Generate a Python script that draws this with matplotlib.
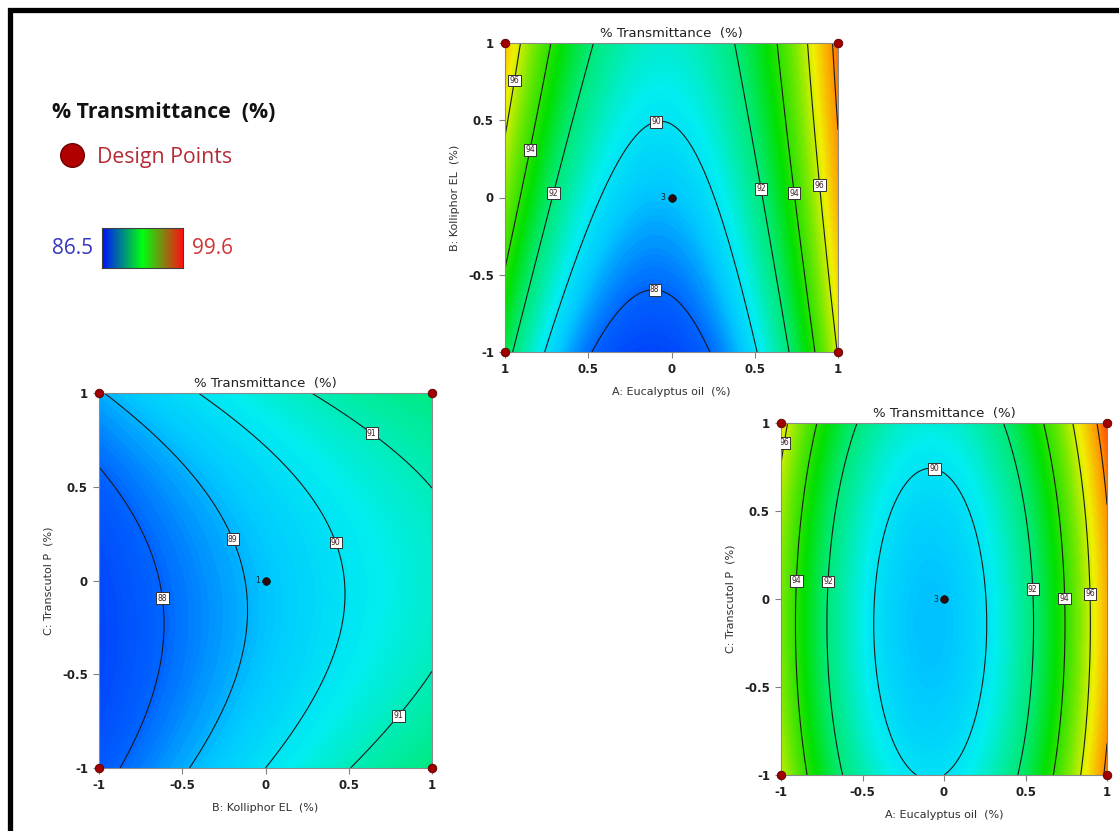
import numpy as np
import matplotlib
matplotlib.use("Agg")
import matplotlib.pyplot as plt
from matplotlib.colors import LinearSegmentedColormap
from matplotlib.patches import Rectangle
from matplotlib.lines import Line2D

# ---------------- data ----------------
# coded quadratic response-surface model for % Transmittance (read from contour positions)
term_names = ["1", "A", "B", "C", "A2", "B2", "C2", "AB", "AC", "BC"]
coef_values = [89.22, 1.20, 1.76, 0.31, 7.10, -0.24, 1.09, -0.56, 0.00, -0.32]

resp_min, resp_max = 86.5, 99.6

corner_x = [-1, 1, -1, 1]
corner_y = [-1, -1, 1, 1]
center_x, center_y = 0, 0

tick_vals = [-1, -0.5, 0, 0.5, 1]
tick_labels_std = ["-1", "-0.5", "0", "0.5", "1"]
tick_labels_top_x = ["1", "0.5", "0", "0.5", "1"]

title_text = "% Transmittance  (%)"
legend_title = "% Transmittance  (%)"
legend_points = "Design Points"

# panel definitions
top_levels = [88, 90, 92, 94, 96, 98]
top_label_pos = [(-0.96, 0.76), (-0.86, 0.31), (-0.72, 0.03), (-0.10, 0.53), (-0.10, -0.57),
                 (0.56, 0.06), (0.75, 0.03), (0.90, 0.08)]
bl_levels = [88, 89, 90, 91]
bl_label_pos = [(-0.614, -0.093), (-0.174, 0.23), (0.446, 0.21), (0.676, 0.83), (0.756, -0.69)]
br_levels = [90, 92, 94, 96, 98]
br_label_pos = [(-0.955, 0.883), (-0.05, 0.78), (-0.904, 0.103), (-0.71, 0.10),
                (0.556, 0.056), (0.754, 0.003), (0.91, 0.03)]

panels = [
    dict(xf="A", yf="B", xlabel="A: Eucalyptus oil  (%)", ylabel="B: Kolliphor EL  (%)",
         levels=top_levels, labelpos=top_label_pos, xticklabels=tick_labels_top_x,
         center_n="3", rect=[505, 43, 838, 352], label_levels=[88, 90, 92, 94, 96]),
    dict(xf="B", yf="C", xlabel="B: Kolliphor EL  (%)", ylabel="C: Transcutol P  (%)",
         levels=bl_levels, labelpos=bl_label_pos, xticklabels=tick_labels_std,
         center_n="1", rect=[99, 393, 432, 768], label_levels=[88, 89, 90, 91]),
    dict(xf="A", yf="C", xlabel="A: Eucalyptus oil  (%)", ylabel="C: Transcutol P  (%)",
         levels=br_levels, labelpos=br_label_pos, xticklabels=tick_labels_std,
         center_n="3", rect=[781, 423, 1107, 775], label_levels=[90, 92, 94, 96]),
]

# ---------------- helpers ----------------
coef = dict(zip(term_names, coef_values))


def predict(A, B, C):
    return (coef["1"] + coef["A"] * A + coef["B"] * B + coef["C"] * C
            + coef["A2"] * A ** 2 + coef["B2"] * B ** 2 + coef["C2"] * C ** 2
            + coef["AB"] * A * B + coef["AC"] * A * C + coef["BC"] * B * C)


de_cmap = LinearSegmentedColormap.from_list(
    "de", [(0.0, "#0030f8"), (0.115, "#0064ff"), (0.21, "#00c8ff"), (0.29, "#00eef0"),
           (0.36, "#00eca8"), (0.43, "#00e870"), (0.53, "#00e000"), (0.65, "#70e800"),
           (0.76, "#f0f000"), (0.88, "#ff9000"), (1.0, "#ff2000")])
bar_cmap = LinearSegmentedColormap.from_list(
    "bar", [(0.0, "#0010ff"), (0.5, "#00ff10"), (1.0, "#ff1010")])

W, H = 1119, 831
fig = plt.figure(figsize=(W / 100, H / 100), dpi=100)
fig.patch.set_facecolor("white")


def px_rect(x0, y0, x1, y1):
    return [x0 / W, 1 - y1 / H, (x1 - x0) / W, (y1 - y0) / H]


g = np.linspace(-1, 1, 301)
GX, GY = np.meshgrid(g, g)
fill_levels = np.linspace(resp_min, resp_max, 160)

for p in panels:
    ax = fig.add_axes(px_rect(*p["rect"]))
    vals = {"A": np.zeros_like(GX), "B": np.zeros_like(GX), "C": np.zeros_like(GX)}
    vals[p["xf"]] = GX
    vals[p["yf"]] = GY
    Z = predict(vals["A"], vals["B"], vals["C"])
    ax.contourf(GX, GY, Z, levels=fill_levels, cmap=de_cmap, vmin=resp_min, vmax=resp_max,
                extend="both")
    cs = ax.contour(GX, GY, Z, levels=p["levels"], colors="#1a1a1a", linewidths=0.8)
    ax.clabel(cs, levels=p["label_levels"], manual=p["labelpos"], inline=False, fmt="%d",
              fontsize=5.5, colors="#402020")
    for t in cs.labelTexts:
        t.set_rotation(0)
        t.set_bbox(dict(boxstyle="square,pad=0.18", fc="white", ec="#303030", lw=0.7))
    # design points
    ax.scatter(corner_x, corner_y, s=38, color="#a00000", edgecolor="#5a0000", lw=0.6,
               zorder=5, clip_on=False)
    ax.scatter([center_x], [center_y], s=30, color="#300808", edgecolor="black", lw=0.5,
               zorder=5)
    ax.text(center_x - 0.035, center_y, p["center_n"], fontsize=5.5, color="#202020",
            ha="right", va="center", zorder=5)
    ax.set_xlim(-1, 1)
    ax.set_ylim(-1, 1)
    ax.set_xticks(tick_vals)
    ax.set_xticklabels(p["xticklabels"])
    ax.set_yticks(tick_vals)
    ax.set_yticklabels(tick_labels_std)
    for lab in ax.get_xticklabels() + ax.get_yticklabels():
        lab.set_fontweight("bold")
        lab.set_fontsize(8.5)
        lab.set_color("#202020")
    ax.tick_params(direction="out", length=4, width=0.8, color="#808080", pad=4)
    for sp in ax.spines.values():
        sp.set_color("#8a8a8a")
        sp.set_linewidth(0.8)
    ax.set_title(title_text, fontsize=9.5, color="#202020", pad=4)
    ax.set_xlabel(p["xlabel"], fontsize=8, color="#303030", labelpad=8)
    ax.set_ylabel(p["ylabel"], fontsize=8, color="#303030", labelpad=6)

# ---------------- legend block ----------------
fig.text(52 / W, 1 - 112 / H, legend_title, fontsize=15.3, fontweight="bold",
         family="Open Sans", color="#111111", ha="left", va="center")
fig.add_artist(Line2D([72 / W], [1 - 155 / H], marker="o", markersize=17,
                      color="#b00000", markeredgecolor="#700000", linestyle="none"))
fig.text(97 / W, 1 - 157 / H, legend_points, fontsize=15.3, family="Open Sans",
         color="#b52a35", ha="left", va="center")
fig.text(52 / W, 1 - 249 / H, f"{resp_min}", fontsize=15, family="Open Sans",
         color="#3535c0", ha="left", va="center")
fig.text(192 / W, 1 - 249 / H, f"{resp_max}", fontsize=15, family="Open Sans",
         color="#d03535", ha="left", va="center")
cax = fig.add_axes(px_rect(102, 228, 183, 268))
cax.imshow(np.linspace(0, 1, 256)[None, :], aspect="auto", cmap=bar_cmap,
           extent=[0, 1, 0, 1])
cax.set_xticks([])
cax.set_yticks([])
for sp in cax.spines.values():
    sp.set_color("#404040")
    sp.set_linewidth(0.8)

# outer black frame (top and left visible)
fig.add_artist(Rectangle((10 / W, -0.2), 1.3, 1.2 - 10 / H, transform=fig.transFigure,
                         fill=False, ec="black", lw=3.8, clip_on=False))

fig.savefig("out.png", dpi=100, facecolor="white")
